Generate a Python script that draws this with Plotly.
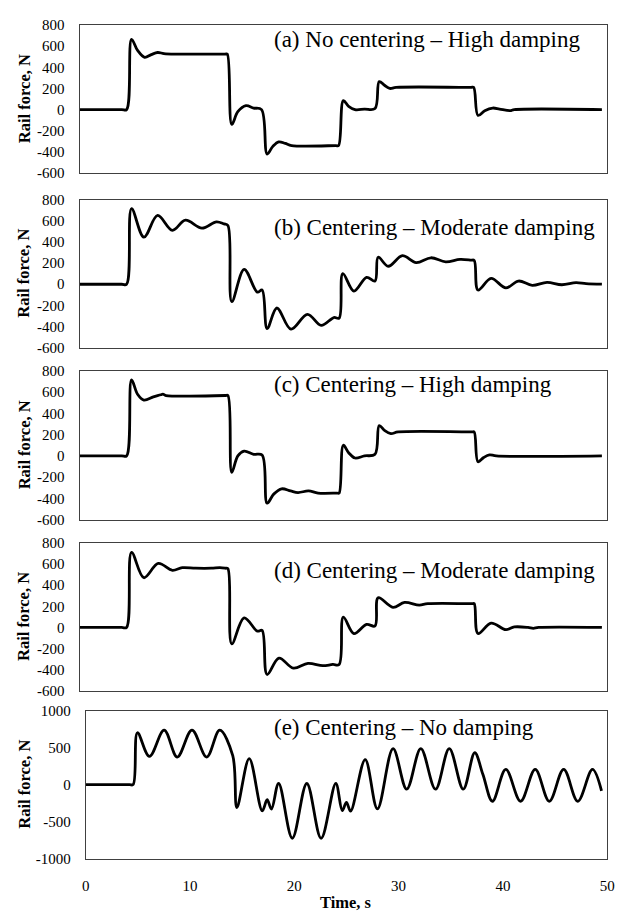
import plotly.graph_objects as go

# ---------------- data ----------------
time_a = [0, 4.0, 4.46, 4.93, 5.5, 6.17, 6.8, 7.4, 8.0, 9.0, 13.8, 14.0, 14.43, 15.0, 15.77, 16.5, 17.25,
          17.78, 18.3, 18.87, 19.5, 20.1, 24.3, 24.55, 25.0, 25.5, 26.1, 27.0, 28.0, 28.4, 28.9, 29.4,
          30.0, 37.1, 37.35, 37.76, 38.4, 39.15, 39.8, 40.8, 41.2, 49.5]
force_a = [0, 0, 0, 665, 560, 495, 520, 540, 530, 525, 525, 525, -140, -20, 37, 15, 0,
           -420, -350, -305, -320, -340, -340, -340, 85, 30, 0, 5, 10, 265, 230, 200,
           210, 210, 210, -55, -10, 15, 5, -10, 0, 0]

time_b = [0, 4.0, 4.46, 4.93, 6.1, 7.4, 8.8, 10.04, 11.6, 12.98, 13.7, 14.06, 14.43, 15.6, 16.85, 17.3,
          17.78, 18.7, 20.04, 21.6, 22.9, 24.1, 24.6, 24.95, 26.0, 27.2, 28.0, 28.3, 29.25, 30.6, 31.9,
          33.3, 34.7, 36.05, 37.1, 37.4, 37.76, 39.0, 40.4, 41.6, 42.9, 44.3, 45.7, 47.05, 48.0, 49.5]
force_b = [0, 0, 0, 715, 445, 650, 510, 605, 530, 590, 570, 555, -165, 140, -75, -55,
           -420, -225, -425, -285, -390, -315, -320, 100, -65, 65, 30, 255, 170, 270, 205,
           250, 212, 235, 228, 225, -55, 55, -35, 30, -10, 18, -5, 15, 5, 0]

time_c = [0, 4.0, 4.46, 4.93, 5.5, 6.1, 7.0, 7.7, 7.9, 8.2, 13.8, 14.06, 14.43, 15.0, 15.6, 16.5, 17.3,
          17.78, 18.4, 19.15, 20.0, 20.7, 21.7, 22.6, 24.4, 24.6, 25.0, 25.5, 26.1, 27.0, 28.0, 28.4,
          28.9, 29.5, 30.2, 37.2, 37.4, 37.76, 38.3, 38.85, 39.5, 49.5]
force_c = [0, 0, 0, 715, 580, 525, 555, 575, 582, 568, 568, 568, -155, 0, 45, 15, 8,
           -445, -360, -310, -330, -345, -330, -350, -350, -350, 100, 30, -20, 0, 15, 285,
           240, 210, 225, 225, 225, -55, -15, 10, 0, 0]

time_d = [0, 4.0, 4.46, 4.93, 6.1, 7.46, 8.8, 9.73, 11.0, 12.5, 13.3, 13.8, 14.06, 14.43, 15.6, 16.85,
          17.3, 17.78, 18.9, 20.26, 21.65, 23.05, 24.0, 24.6, 25.0, 26.0, 27.2, 28.0, 28.3, 29.7, 30.8,
          32.2, 33.0, 37.2, 37.4, 37.76, 39.0, 40.4, 41.2, 42.5, 43.0, 43.5, 49.5]
force_d = [0, 0, 0, 710, 470, 605, 540, 565, 560, 560, 565, 560, 555, -155, 90, -35,
           -28, -445, -290, -385, -340, -362, -350, -350, 97, -58, 29, 14, 280, 190, 236,
           211, 225, 225, 225, -58, 41, -21, 5, 0, -8, 0, 0]

time_e = [0, 4.2, 4.55, 4.96, 6.11, 7.52, 8.78, 10.19, 11.6, 12.85, 14.1, 14.5, 15.68, 16.93, 17.4,
          17.81, 18.5, 19.81, 21.2, 22.57, 23.98, 24.6, 25.0, 25.4, 26.8, 27.97, 29.47, 30.78, 32.13,
          33.54, 34.86, 36.2, 37.3, 38.08, 39.0, 40.28, 41.7, 43.1, 44.45, 45.83, 47.18, 48.59, 49.46]
force_e = [0, 0, 0, 700, 380, 735, 372, 735, 372, 735, 390, -310, 350, -355, -205,
           -330, 15, -725, 15, -725, 15, -350, -240, -358, 336, -327, 485, -62, 485,
           -62, 485, -62, 430, 140, -225, 205, -225, 205, -225, 205, -225, 205, -85]

panel_labels = ["(a) No centering \u2013 High damping",
                "(b) Centering \u2013 Moderate damping",
                "(c) Centering \u2013 High damping",
                "(d) Centering \u2013 Moderate damping",
                "(e) Centering \u2013 No damping"]

y_ticks_small = [-600, -400, -200, 0, 200, 400, 600, 800]
y_ticks_big = [-1000, -500, 0, 500, 1000]
x_ticks = [0, 10, 20, 30, 40, 50]

# ---------------- layout geometry (pixels) ----------------
W, H = 624, 919
boxes = [(77, 615, 17.3, 168.0),
         (77, 615, 195.0, 345.7),
         (77, 615, 369.3, 520.7),
         (77, 615, 544.3, 695.0),
         (83.3, 615, 715.0, 865.7)]
label_cy = [32.5, 223.0, 383.5, 572.5, 732.5]

FONT = "Liberation Serif"
series = [(time_a, force_a), (time_b, force_b), (time_c, force_c), (time_d, force_d), (time_e, force_e)]

fig = go.Figure()
layout = dict(
    width=W, height=H,
    margin=dict(l=0, r=0, t=0, b=0),
    paper_bgcolor="white", plot_bgcolor="white",
    showlegend=False,
    font=dict(family=FONT, size=15, color="black"),
)
annotations = []
for i, (ts, fs) in enumerate(series):
    n = "" if i == 0 else str(i + 1)
    l, r, t, b = boxes[i]
    fig.add_trace(go.Scatter(x=ts, y=fs, mode="lines",
                             line=dict(color="black", width=2.8, shape="spline", smoothing=1.0),
                             xaxis="x" + n, yaxis="y" + n))
    last = (i == 4)
    yt = y_ticks_big if last else y_ticks_small
    layout["xaxis" + n] = dict(
        domain=[l / W, r / W], anchor="y" + n, range=[0, 50],
        showline=True, mirror=True, linecolor="#404040", linewidth=1,
        showgrid=False, zeroline=False,
        tickvals=x_ticks, ticktext=[str(v) for v in x_ticks], showticklabels=last,
        ticks="outside" if last else "", ticklen=13, tickcolor="rgba(0,0,0,0)",
        tickfont=dict(family=FONT, size=15, color="black"),
    )
    layout["yaxis" + n] = dict(
        domain=[1 - b / H, 1 - t / H], anchor="x" + n,
        range=[-1000, 1000] if last else [-600, 800],
        tickvals=yt, ticktext=[str(v) for v in yt],
        showline=True, mirror=True, linecolor="#404040", linewidth=1,
        showgrid=False, zeroline=False,
        ticks="outside", ticklen=11, tickcolor="rgba(0,0,0,0)",
        tickfont=dict(family=FONT, size=15, color="black"),
    )
    annotations.append(dict(text=panel_labels[i], xref="paper", yref="paper",
                            x=273 / W, y=1 - label_cy[i] / H, xanchor="left", yanchor="middle",
                            showarrow=False, font=dict(family=FONT, size=23, color="black")))
    annotations.append(dict(text="<b>Rail force, N</b>", xref="paper", yref="paper",
                            x=20.5 / W, y=1 - (t + b) / 2 / H, xanchor="center", yanchor="middle",
                            textangle=-90, showarrow=False,
                            font=dict(family=FONT, size=16.5, color="black")))

annotations.append(dict(text="<b>Time, s</b>", xref="paper", yref="paper",
                        x=349 / W, y=1 - 910 / H, xanchor="center", yanchor="middle",
                        showarrow=False, font=dict(family=FONT, size=16.5, color="black")))
layout["annotations"] = annotations
fig.update_layout(**layout)
fig.write_html("out.html")
